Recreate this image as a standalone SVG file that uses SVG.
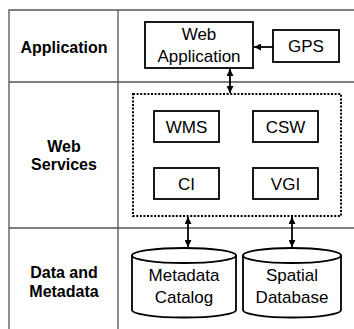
<svg xmlns="http://www.w3.org/2000/svg" width="354" height="329" viewBox="0 0 354 329">
<defs>
<marker id="ah" viewBox="0 0 10 10" refX="10" refY="5" markerWidth="7" markerHeight="7" orient="auto-start-reverse" markerUnits="userSpaceOnUse">
<path d="M0,0 L10,5 L0,10 z" fill="#000"/>
</marker>
<style>
.grid{stroke:#555;stroke-width:1.3;fill:none}
.box{fill:#fff;stroke:#000;stroke-width:1.8}
.dot{fill:none;stroke:#000;stroke-width:2;stroke-dasharray:2,1.6}
.lbl{font-family:"Liberation Sans",Arial,sans-serif;font-size:16px;font-weight:bold;text-anchor:middle;fill:#000}
.t{font-family:"Liberation Sans",Arial,sans-serif;font-size:17px;text-anchor:middle;fill:#000}
.con{stroke:#000;stroke-width:1.8;fill:none}
</style>
</defs>
<rect width="354" height="329" fill="#fff"/>
<g id="table">
<path class="grid" d="M9,329 V10 H354 M118,10 V329 M9,82 H354 M9,228 H354"/>
<text class="lbl" x="64" y="53">Application</text>
<text class="lbl" x="64" y="152">Web</text>
<text class="lbl" x="64" y="170">Services</text>
<text class="lbl" x="64" y="278">Data and</text>
<text class="lbl" x="64" y="297">Metadata</text>
</g>
<g id="webservices-group">
<rect class="dot" x="133" y="94" width="208" height="122"/>
</g>
<g id="webapp">
<rect class="box" x="145" y="22" width="108" height="46"/>
<text class="t" x="199" y="40">Web</text>
<text class="t" x="199" y="62">Application</text>
</g>
<g id="gps">
<rect class="box" x="273" y="30" width="66" height="32"/>
<text class="t" x="306" y="52">GPS</text>
</g>
<g id="wms">
<rect class="box" x="154" y="111" width="65" height="31"/>
<text class="t" x="186.5" y="133">WMS</text>
</g>
<g id="csw">
<rect class="box" x="253" y="111" width="65" height="31"/>
<text class="t" x="285.5" y="133">CSW</text>
</g>
<g id="ci">
<rect class="box" x="154" y="168" width="65" height="31"/>
<text class="t" x="186.5" y="190">CI</text>
</g>
<g id="vgi">
<rect class="box" x="253" y="168" width="65" height="31"/>
<text class="t" x="285.5" y="190">VGI</text>
</g>
<g id="metadata">
<path class="box" d="M132,255.5 A52,7.5 0 0 1 236,255.5 V310 A52,7.5 0 0 1 132,310 Z"/>
<path class="con" d="M132,255.5 A52,7.5 0 0 0 236,255.5"/>
<text class="t" x="184" y="281">Metadata</text>
<text class="t" x="184" y="303">Catalog</text>
</g>
<g id="spatial">
<path class="box" d="M243,255.5 A49,7.5 0 0 1 341,255.5 V310 A49,7.5 0 0 1 243,310 Z"/>
<path class="con" d="M243,255.5 A49,7.5 0 0 0 341,255.5"/>
<text class="t" x="292" y="281">Spatial</text>
<text class="t" x="292" y="303">Database</text>
</g>
<g id="connectors">
<line class="con" x1="273" y1="47" x2="254" y2="47" marker-end="url(#ah)"/>
<line class="con" x1="230" y1="69" x2="230" y2="93" marker-start="url(#ah)" marker-end="url(#ah)"/>
<line class="con" x1="188" y1="217" x2="188" y2="247" marker-start="url(#ah)" marker-end="url(#ah)"/>
<line class="con" x1="292" y1="217" x2="292" y2="247" marker-start="url(#ah)" marker-end="url(#ah)"/>
</g>
</svg>
